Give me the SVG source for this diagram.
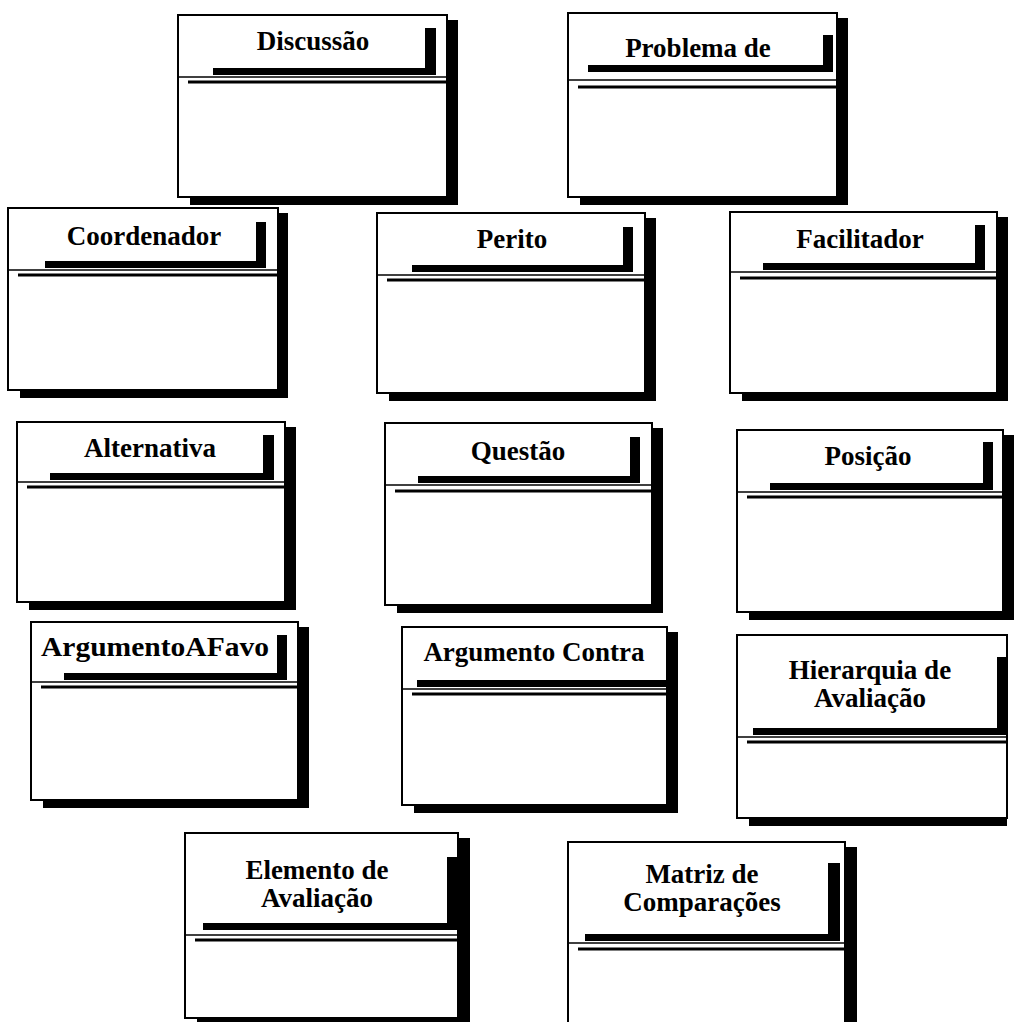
<svg xmlns="http://www.w3.org/2000/svg" width="1015" height="1022" viewBox="0 0 1015 1022">
  <style>
    .shadow{fill:#000}
    .frame{fill:#fff;stroke:#000;stroke-width:2}
    .bar{fill:#000}
    .rule{stroke:#000;stroke-width:1.5}
    .rule2{stroke:#000;stroke-width:3}
    .title{font-family:"Liberation Serif","Times New Roman",serif;font-weight:bold;font-size:27px;text-anchor:middle;fill:#000}
  </style>
  <rect width="1015" height="1022" fill="#fff"/>

  <!-- class boxes: drop shadow, frame, raised title bar, double rule under the title -->
  <g id="discussao">
    <path class="shadow" d="M447 20H458V205H190V197H447Z"/>
    <rect class="frame" x="178" y="15" width="269" height="182"/>
    <path class="bar" d="M425 28H436V75H213V68H425Z"/>
    <line class="rule" x1="178" y1="77" x2="447" y2="77"/>
    <line class="rule2" x1="188" y1="82" x2="447" y2="82"/>
    <text class="title" x="313" y="50">Discussão</text>
  </g>

  <g id="problema">
    <path class="shadow" d="M837 18H848V205H580V197H837Z"/>
    <rect class="frame" x="568" y="13" width="269" height="184"/>
    <path class="bar" d="M823 35H833V72H588V65H823Z"/>
    <line class="rule" x1="568" y1="80" x2="837" y2="80"/>
    <line class="rule2" x1="578" y1="87" x2="837" y2="87"/>
    <text class="title" x="698" y="57">Problema de</text>
  </g>

  <g id="coordenador">
    <path class="shadow" d="M278 213H288V398H20V390H278Z"/>
    <rect class="frame" x="8" y="208" width="270" height="182"/>
    <path class="bar" d="M256 222H266V268H45V261H256Z"/>
    <line class="rule" x1="8" y1="270" x2="278" y2="270"/>
    <line class="rule2" x1="18" y1="275" x2="278" y2="275"/>
    <text class="title" x="144" y="245">Coordenador</text>
  </g>

  <g id="perito">
    <path class="shadow" d="M645 218H656V401H389V393H645Z"/>
    <rect class="frame" x="377" y="213" width="268" height="180"/>
    <path class="bar" d="M623 227H633V272H412V265H623Z"/>
    <line class="rule" x1="377" y1="275" x2="645" y2="275"/>
    <line class="rule2" x1="387" y1="280" x2="645" y2="280"/>
    <text class="title" x="512" y="248">Perito</text>
  </g>

  <g id="facilitador">
    <path class="shadow" d="M997 217H1008V401H742V393H997Z"/>
    <rect class="frame" x="730" y="212" width="267" height="181"/>
    <path class="bar" d="M975 225H985V270H763V263H975Z"/>
    <line class="rule" x1="730" y1="272" x2="997" y2="272"/>
    <line class="rule2" x1="740" y1="278" x2="997" y2="278"/>
    <text class="title" x="860" y="248">Facilitador</text>
  </g>

  <g id="alternativa">
    <path class="shadow" d="M285 427H296V610H29V602H285Z"/>
    <rect class="frame" x="17" y="422" width="268" height="180"/>
    <path class="bar" d="M263 435H274V480H50V473H263Z"/>
    <line class="rule" x1="17" y1="482" x2="285" y2="482"/>
    <line class="rule2" x1="27" y1="487" x2="285" y2="487"/>
    <text class="title" x="150" y="457">Alternativa</text>
  </g>

  <g id="questao">
    <path class="shadow" d="M652 428H663V613H397V605H652Z"/>
    <rect class="frame" x="385" y="423" width="267" height="182"/>
    <path class="bar" d="M630 437H640V483H418V476H630Z"/>
    <line class="rule" x1="385" y1="485" x2="652" y2="485"/>
    <line class="rule2" x1="395" y1="491" x2="652" y2="491"/>
    <text class="title" x="518" y="460">Questão</text>
  </g>

  <g id="posicao">
    <path class="shadow" d="M1003 435H1014V620H749V612H1003Z"/>
    <rect class="frame" x="737" y="430" width="266" height="182"/>
    <path class="bar" d="M983 442H993V490H770V483H983Z"/>
    <line class="rule" x1="737" y1="492" x2="1003" y2="492"/>
    <line class="rule2" x1="747" y1="497" x2="1003" y2="497"/>
    <text class="title" x="868" y="465">Posição</text>
  </g>

  <g id="argumento-a-favor">
    <path class="shadow" d="M298 627H309V808H43V800H298Z"/>
    <rect class="frame" x="31" y="622" width="267" height="178"/>
    <path class="bar" d="M277 635H287V680H64V673H277Z"/>
    <line class="rule" x1="31" y1="682" x2="298" y2="682"/>
    <line class="rule2" x1="41" y1="687" x2="298" y2="687"/>
    <text class="title" x="155" y="656" textLength="228" lengthAdjust="spacingAndGlyphs">ArgumentoAFavo</text>
  </g>

  <g id="argumento-contra">
    <path class="shadow" d="M667 632H678V813H414V805H667Z"/>
    <rect class="frame" x="402" y="627" width="265" height="178"/>
    <path class="bar" d="M417 680H667V687H417Z"/>
    <line class="rule" x1="402" y1="689" x2="667" y2="689"/>
    <line class="rule2" x1="412" y1="694" x2="667" y2="694"/>
    <text class="title" x="534" y="661">Argumento Contra</text>
  </g>

  <g id="hierarquia">
    <path class="shadow" d="M749 818H1007V826H749Z"/>
    <rect class="frame" x="737" y="635" width="270" height="183"/>
    <path class="bar" d="M997 657H1007V735H753V728H997Z"/>
    <line class="rule" x1="737" y1="737" x2="1007" y2="737"/>
    <line class="rule2" x1="747" y1="742" x2="1007" y2="742"/>
    <text class="title" x="870" y="679">Hierarquia de<tspan x="870" dy="28">Avaliação</tspan></text>
  </g>

  <g id="elemento">
    <path class="shadow" d="M458 838H470V1026H197V1018H458Z"/>
    <rect class="frame" x="185" y="833" width="273" height="185"/>
    <path class="bar" d="M447 857H457V930H203V923H447Z"/>
    <line class="rule" x1="185" y1="935" x2="458" y2="935"/>
    <line class="rule2" x1="195" y1="940" x2="458" y2="940"/>
    <text class="title" x="317" y="879">Elemento de<tspan x="317" dy="28">Avaliação</tspan></text>
  </g>

  <g id="matriz">
    <path class="shadow" d="M845 847H857V1043H580V1035H845Z"/>
    <rect class="frame" x="568" y="842" width="277" height="193"/>
    <path class="bar" d="M828 863H840V941H585V934H828Z"/>
    <line class="rule" x1="568" y1="943" x2="845" y2="943"/>
    <line class="rule2" x1="578" y1="949" x2="845" y2="949"/>
    <text class="title" x="702" y="883">Matriz de<tspan x="702" dy="28">Comparações</tspan></text>
  </g>

  <!-- no associations are drawn between the classes -->
  <g id="connectors"/>
</svg>
